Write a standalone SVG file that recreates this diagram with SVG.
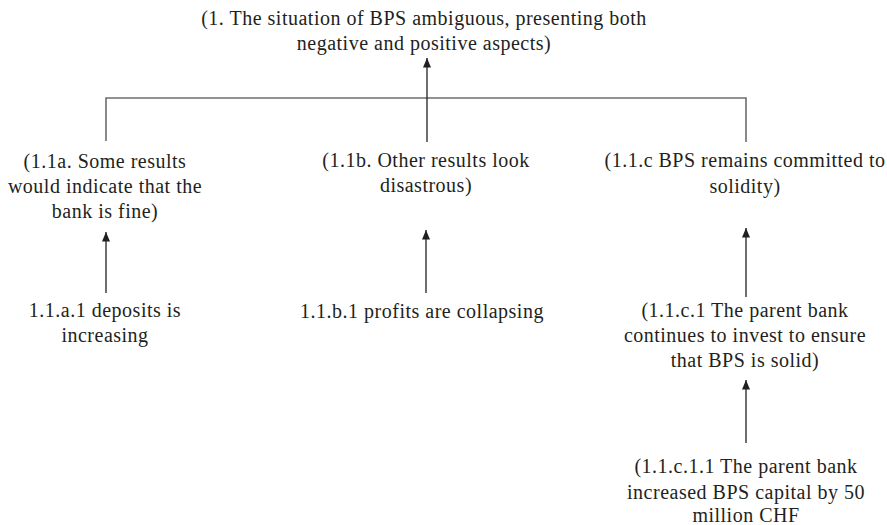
<svg xmlns="http://www.w3.org/2000/svg" width="887" height="525" viewBox="0 0 887 525">
<defs>
<marker id="ah" viewBox="0 0 12 10" refX="12" refY="5" markerWidth="11" markerHeight="8" markerUnits="userSpaceOnUse" orient="auto-start-reverse">
<path d="M0,0 L12,5 L0,10 Z" fill="#231f20"/>
</marker>
<style>
text{font-family:"Liberation Serif","DejaVu Serif",serif;font-size:20px;letter-spacing:0.5px;fill:#231f20;text-anchor:middle}
.gr{stroke:#6d6d6d;stroke-width:1.6;fill:none}
.ar{stroke:#231f20;stroke-width:1.3;fill:none;marker-start:url(#ah)}
</style>
</defs>
<rect width="887" height="525" fill="#ffffff"/>
<g id="connectors">
<path class="gr" d="M106,141 V98 H746 V142"/>
<line class="ar" x1="427" y1="58" x2="427" y2="142"/>
<line class="ar" x1="106" y1="232" x2="106" y2="293"/>
<line class="ar" x1="426" y1="230" x2="426" y2="293"/>
<line class="ar" x1="746" y1="228" x2="746" y2="297"/>
<line class="ar" x1="746" y1="380" x2="746" y2="443"/>
</g>
<g id="n1">
<text x="424" y="25">(1. The situation of BPS ambiguous, presenting both</text>
<text x="424" y="50">negative and positive aspects)</text>
</g>
<g id="n1a">
<text x="105" y="168">(1.1a. Some results</text>
<text x="105" y="193">would indicate that the</text>
<text x="105" y="218">bank is fine)</text>
</g>
<g id="n1b">
<text x="426" y="167">(1.1b. Other results look</text>
<text x="426" y="192">disastrous)</text>
</g>
<g id="n1c">
<text x="745" y="167">(1.1.c BPS remains committed to</text>
<text x="745" y="193">solidity)</text>
</g>
<g id="n1a1">
<text x="105" y="317">1.1.a.1 deposits is</text>
<text x="105" y="342">increasing</text>
</g>
<g id="n1b1">
<text x="422" y="318">1.1.b.1 profits are collapsing</text>
</g>
<g id="n1c1">
<text x="745" y="317">(1.1.c.1 The parent bank</text>
<text x="745" y="342">continues to invest to ensure</text>
<text x="745" y="367">that BPS is solid)</text>
</g>
<g id="n1c11">
<text x="746" y="473">(1.1.c.1.1 The parent bank</text>
<text x="746" y="499">increased BPS capital by 50</text>
<text x="746" y="522">million CHF</text>
</g>
</svg>
